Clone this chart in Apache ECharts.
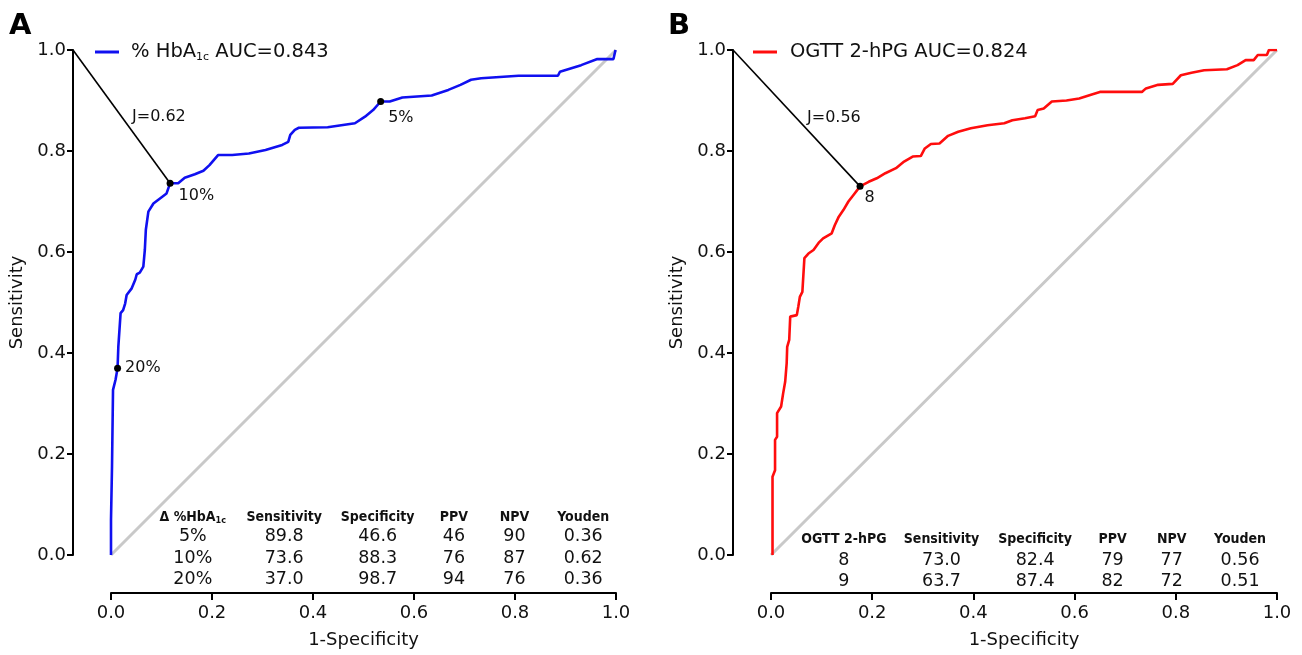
<!DOCTYPE html>
<html><head><meta charset="utf-8">
<script src="https://cdn.jsdelivr.net/npm/echarts@6/dist/echarts.min.js"></script>
<style>html,body{margin:0;padding:0;background:#fff}#c{width:1302px;height:655px}</style>
</head><body><div id="c"></div>
<script>
// ---------------- data ----------------
const rocA = [[0.0,0.0],[0.0,0.07],[0.002,0.175],[0.004,0.327],[0.009,0.347],[0.013,0.370],[0.0145,0.412],[0.019,0.479],[0.024,0.485],[0.028,0.498],[0.031,0.515],[0.041,0.528],[0.048,0.545],[0.051,0.556],[0.057,0.559],[0.064,0.571],[0.067,0.604],[0.069,0.644],[0.074,0.680],[0.084,0.696],[0.097,0.706],[0.110,0.716],[0.117,0.736],[0.133,0.736],[0.146,0.747],[0.166,0.754],[0.183,0.761],[0.195,0.772],[0.212,0.792],[0.240,0.792],[0.273,0.795],[0.306,0.802],[0.339,0.812],[0.351,0.818],[0.355,0.832],[0.364,0.842],[0.372,0.846],[0.429,0.847],[0.483,0.855],[0.503,0.868],[0.519,0.881],[0.534,0.898],[0.552,0.898],[0.577,0.906],[0.635,0.910],[0.668,0.921],[0.692,0.931],[0.713,0.941],[0.733,0.944],[0.807,0.949],[0.885,0.949],[0.889,0.957],[0.931,0.970],[0.963,0.982],[0.995,0.982],[0.999,1.0]];
const rocB = [[0.003,0.0],[0.003,0.155],[0.008,0.168],[0.008,0.228],[0.012,0.234],[0.012,0.281],[0.020,0.294],[0.024,0.320],[0.028,0.343],[0.031,0.380],[0.032,0.412],[0.036,0.426],[0.038,0.472],[0.051,0.475],[0.054,0.492],[0.057,0.511],[0.062,0.521],[0.066,0.588],[0.074,0.597],[0.084,0.604],[0.094,0.618],[0.103,0.627],[0.120,0.637],[0.126,0.653],[0.134,0.670],[0.143,0.683],[0.153,0.700],[0.163,0.713],[0.176,0.730],[0.193,0.739],[0.209,0.746],[0.226,0.756],[0.247,0.766],[0.263,0.779],[0.280,0.789],[0.296,0.790],[0.304,0.805],[0.316,0.814],[0.333,0.815],[0.350,0.830],[0.370,0.838],[0.395,0.845],[0.428,0.851],[0.461,0.855],[0.477,0.861],[0.502,0.865],[0.522,0.869],[0.527,0.881],[0.539,0.884],[0.555,0.898],[0.584,0.900],[0.609,0.904],[0.634,0.912],[0.650,0.917],[0.733,0.917],[0.741,0.924],[0.765,0.931],[0.794,0.933],[0.810,0.950],[0.831,0.955],[0.856,0.960],[0.901,0.962],[0.922,0.970],[0.938,0.980],[0.954,0.980],[0.962,0.990],[0.980,0.990],[0.984,1.0],[1.0,1.0]];

const aucA = 0.843;
const aucB = 0.824;
const axisTicks = [0, 0.2, 0.4, 0.6, 0.8, 1.0];

const tableAHeaders = ['Δ %HbA{s|1c}', 'Sensitivity', 'Specificity', 'PPV', 'NPV', 'Youden'];
const tableAThresholds = ['5%', '10%', '20%'];
const tableASens = [89.8, 73.6, 37.0];
const tableASpec = [46.6, 88.3, 98.7];
const tableAPPV = [46, 76, 94];
const tableANPV = [90, 87, 76];
const tableAYouden = [0.36, 0.62, 0.36];
const markedA = ['5%', '10%', '20%'];

const tableBHeaders = ['OGTT 2-hPG', 'Sensitivity', 'Specificity', 'PPV', 'NPV', 'Youden'];
const tableBThresholds = ['8', '9'];
const tableBSens = [73.0, 63.7];
const tableBSpec = [82.4, 87.4];
const tableBPPV = [79, 82];
const tableBNPV = [77, 72];
const tableBYouden = [0.56, 0.51];
const markedB = ['8'];

// ---------------- layout / style ----------------
const FONT = 'DejaVu Sans';
const FONT_HEAD = 'DejaVu Sans Condensed, DejaVu Sans';
const TXT = '#111';
const grids = [
  {left: 111, top: 50, width: 505, height: 505},
  {left: 771, top: 50, width: 506, height: 505}
];
const AXIS_OFFSET = 38;
const tableColsA = [0.162, 0.343, 0.528, 0.679, 0.799, 0.935];
const tableRowsA = [0.074, 0.036, -0.006, -0.048];
const tableColsB = [0.144, 0.337, 0.522, 0.675, 0.792, 0.927];
const tableRowsB = [0.030, -0.010, -0.052];
const pointLabelOffsetA = {'5%': [-1, 16], '10%': [0, 13], '20%': [-1, 0]};
const pointLabelOffsetB = {'8': [-4, 11]};

function axisX(i) {
  return {
    gridIndex: i, type: 'value', min: 0, max: 1, interval: 0.2,
    position: 'bottom', offset: AXIS_OFFSET,
    axisLine: {show: true, onZero: false, lineStyle: {color: '#000', width: 2}},
    axisTick: {show: true, length: 7, lineStyle: {color: '#000', width: 2}},
    axisLabel: {fontFamily: FONT, fontSize: 18, color: TXT, margin: 11, formatter: v => v.toFixed(1)},
    splitLine: {show: false},
    name: '1-Specificity', nameLocation: 'middle', nameGap: 38,
    nameTextStyle: {fontFamily: FONT, fontSize: 18, color: TXT}
  };
}
function axisY(i) {
  return {
    gridIndex: i, type: 'value', min: 0, max: 1, interval: 0.2,
    position: 'left', offset: AXIS_OFFSET,
    axisLine: {show: true, onZero: false, lineStyle: {color: '#000', width: 2}},
    axisTick: {show: true, length: 6, lineStyle: {color: '#000', width: 2}},
    axisLabel: {fontFamily: FONT, fontSize: 18, color: TXT, margin: 7, formatter: v => v.toFixed(1)},
    splitLine: {show: false},
    name: 'Sensitivity', nameLocation: 'middle', nameGap: 47, nameRotate: 90,
    nameTextStyle: {fontFamily: FONT, fontSize: 18, color: TXT}
  };
}

function panelSeries(i, name, roc, color, thresholds, sens, spec, ppv, npv, youden, headers, marked, offsets, cols, rows, headerY) {
  const s = [];
  const hidden = {color: 'rgba(0,0,0,0)', opacity: 1};
  // diagonal reference
  s.push({type: 'line', xAxisIndex: i, yAxisIndex: i, data: [[0, 0], [1, 1]], symbol: 'none', silent: true,
    lineStyle: {color: '#c9c9c9', width: 3}, z: 1});
  // ROC curve
  s.push({type: 'line', name: name, xAxisIndex: i, yAxisIndex: i, data: roc, symbol: 'none', silent: true,
    lineStyle: {color: color, width: 2.6}, itemStyle: {color: color}, z: 3});
  // best Youden point and J segment from the top of the y axis
  let best = 0;
  youden.forEach((v, k) => { if (v > youden[best]) best = k; });
  const bx = 1 - spec[best] / 100, by = sens[best] / 100;
  const jStart = [-AXIS_OFFSET / grids[i].width, 1];
  s.push({type: 'custom', xAxisIndex: i, yAxisIndex: i, silent: true, z: 4,
    data: [[jStart[0], jStart[1], bx, by]],
    renderItem: (params, api) => {
      const p0 = api.coord([api.value(0), api.value(1)]);
      const p1 = api.coord([api.value(2), api.value(3)]);
      return {type: 'line', shape: {x1: p0[0], y1: p0[1], x2: p1[0], y2: p1[1]},
        style: {stroke: '#000', lineWidth: 1.6}};
    }});
  s.push({type: 'scatter', xAxisIndex: i, yAxisIndex: i, silent: true, clip: false, symbolSize: 1,
    itemStyle: hidden, z: 6,
    data: [{value: [(jStart[0] + bx) / 2, (1 + by) / 2]}],
    label: {show: true, position: 'right', distance: 10, formatter: 'J=' + youden[best].toFixed(2),
      fontFamily: FONT, fontSize: 16, color: TXT}});
  // threshold points
  s.push({type: 'scatter', xAxisIndex: i, yAxisIndex: i, silent: true, symbolSize: 7, z: 5,
    itemStyle: {color: '#000', opacity: 1},
    data: thresholds.map((t, k) => marked.includes(t) ? {
      value: [1 - spec[k] / 100, sens[k] / 100],
      label: {show: true, position: 'right', distance: 5, offset: offsets[t], formatter: t,
        fontFamily: FONT, fontSize: 16, color: TXT}
    } : null).filter(d => d)});
  // table
  const cells = [];
  headers.forEach((h, c) => cells.push({value: [cols[c], headerY],
    label: {formatter: h, fontWeight: 'bold', fontSize: 14, fontFamily: FONT_HEAD}}));
  thresholds.forEach((t, r) => {
    const vals = [t, sens[r].toFixed(1), spec[r].toFixed(1), String(ppv[r]), String(npv[r]), youden[r].toFixed(2)];
    vals.forEach((v, c) => cells.push({value: [cols[c], rows[r]], label: {formatter: v}}));
  });
  s.push({type: 'scatter', xAxisIndex: i, yAxisIndex: i, silent: true, clip: false, symbolSize: 1,
    itemStyle: hidden, z: 6, data: cells,
    label: {show: true, position: 'inside', align: 'center', verticalAlign: 'middle',
      fontFamily: FONT, fontSize: 17.5, color: TXT, textBorderWidth: 0,
      rich: {s: {fontSize: 9, fontWeight: 'bold', fontFamily: FONT_HEAD, color: TXT, padding: [7, 0, 0, 0]}}}});
  return s;
}

const nameA = '% HbA1c AUC=' + aucA.toFixed(3);
const nameB = 'OGTT 2-hPG AUC=' + aucB.toFixed(3);

const option = {
  animation: false,
  backgroundColor: '#fff',
  title: [
    {text: 'A', left: 9, top: 12, padding: 0, textStyle: {fontFamily: FONT, fontSize: 29, fontWeight: 'bold', color: '#000'}},
    {text: 'B', left: 668, top: 12, padding: 0, textStyle: {fontFamily: FONT, fontSize: 29, fontWeight: 'bold', color: '#000'}}
  ],
  legend: [
    {data: [nameA], left: 95, top: 42, padding: 0, icon: 'rect', itemWidth: 24, itemHeight: 3, selectedMode: false,
      formatter: () => '% HbA{s|1c} AUC=' + aucA.toFixed(3),
      textStyle: {fontFamily: FONT, fontSize: 19.5, color: TXT, padding: [0, 0, 0, 7],
        rich: {s: {fontFamily: FONT, fontSize: 11, color: TXT, padding: [10, 0, 0, 0]}}}},
    {data: [nameB], left: 753, top: 42, padding: 0, icon: 'rect', itemWidth: 24, itemHeight: 3, selectedMode: false,
      textStyle: {fontFamily: FONT, fontSize: 19.5, color: TXT, padding: [0, 0, 0, 8]}}
  ],
  grid: grids.map(g => Object.assign({containLabel: false}, g)),
  xAxis: [axisX(0), axisX(1)],
  yAxis: [axisY(0), axisY(1)],
  series: [].concat(
    panelSeries(0, nameA, rocA, '#1010f0', tableAThresholds, tableASens, tableASpec, tableAPPV, tableANPV, tableAYouden,
      tableAHeaders, markedA, pointLabelOffsetA, tableColsA, tableRowsA.slice(1), tableRowsA[0]),
    panelSeries(1, nameB, rocB, '#ff0d0d', tableBThresholds, tableBSens, tableBSpec, tableBPPV, tableBNPV, tableBYouden,
      tableBHeaders, markedB, pointLabelOffsetB, tableColsB, tableRowsB.slice(1), tableRowsB[0])
  )
};
const chart = echarts.init(document.getElementById('c'), null, {renderer: 'canvas'});
chart.setOption(option);
</script>
</body></html>
